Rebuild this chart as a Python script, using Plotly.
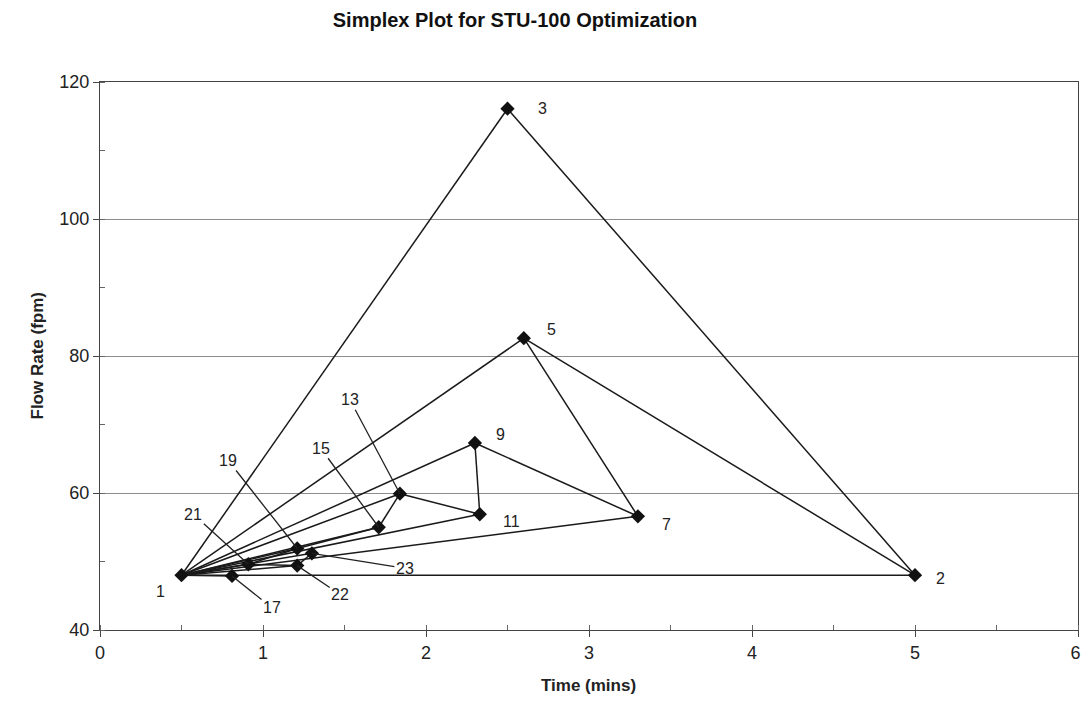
import plotly.graph_objects as go

# ---- data ----
point_labels = ["1", "2", "3", "5", "7", "9", "11", "13", "15", "17", "19", "21", "22", "23"]
time_mins = [0.5, 5.0, 2.5, 2.6, 3.3, 2.3, 2.33, 1.84, 1.71, 0.81, 1.21, 0.91, 1.21, 1.3]
flow_fpm = [48.0, 48.0, 116.1, 82.6, 56.6, 67.3, 56.9, 59.9, 55.0, 47.9, 51.9, 49.6, 49.4, 51.2]

edges = [("1", "3"), ("3", "2"), ("1", "2"), ("1", "5"), ("5", "2"), ("5", "7"),
         ("1", "7"), ("7", "9"), ("1", "9"), ("9", "11"), ("1", "11"), ("11", "13"),
         ("1", "13"), ("13", "15"), ("1", "15"), ("15", "19"), ("1", "19"),
         ("19", "21"), ("1", "21"), ("21", "22"), ("1", "22"), ("22", "23"),
         ("1", "23"), ("1", "17")]

x_ticks = [0, 1, 2, 3, 4, 5, 6]
x_tick_text = ["0", "1", "2", "3", "4", "5", "6\u00a0"]
y_ticks = [40, 60, 80, 100, 120]

# label placement (pixel offsets) - plain labels
plain_label_offsets = {"1": (-21, -16), "2": (25, -3), "3": (35, 0), "5": (28, 9),
                       "7": (29, -8), "9": (26, 9), "11": (32, -7)}
# labels with leader lines: (ax, ay) offsets
leader_label_offsets = {"13": (-50, -94), "15": (-58, -79), "19": (-69, -88),
                        "21": (-55, -50), "17": (40, 32), "22": (43, 29), "23": (93, 15)}

idx = {lab: i for i, lab in enumerate(point_labels)}

ex, ey = [], []
for a, b in edges:
    ex += [time_mins[idx[a]], time_mins[idx[b]], None]
    ey += [flow_fpm[idx[a]], flow_fpm[idx[b]], None]

font_family = "Liberation Sans, Arial, sans-serif"
# page body has an 8px margin; the figure is sized so the plot lands where the reference has it
OFF = 8
W, H = 1089 - 2 * OFF, 717 - 2 * OFF
L, T = 100 - OFF, 82 - OFF
R = W - (1078 - OFF)
B = H - (630 - OFF)
PW, PH = W - L - R, H - T - B

fig = go.Figure()
fig.add_trace(go.Scatter(x=ex, y=ey, mode="lines",
                         line=dict(color="#1a1a1a", width=1.5),
                         hoverinfo="skip", showlegend=False))
fig.add_trace(go.Scatter(x=time_mins, y=flow_fpm, mode="markers",
                         marker=dict(symbol="diamond", size=11, color="#111111"),
                         text=point_labels, showlegend=False))

annotations = []
for lab, (dx, dy) in plain_label_offsets.items():
    i = idx[lab]
    annotations.append(dict(x=time_mins[i], y=flow_fpm[i], text=lab, showarrow=False,
                            xshift=dx, yshift=dy,
                            font=dict(size=16, color="#222222", family=font_family)))
for lab, (ax, ay) in leader_label_offsets.items():
    i = idx[lab]
    annotations.append(dict(x=time_mins[i], y=flow_fpm[i], text=lab, showarrow=True,
                            arrowhead=0, arrowwidth=1.3, arrowcolor="#222222",
                            ax=ax, ay=ay, standoff=0,
                            font=dict(size=16, color="#222222", family=font_family)))


def px_to_paper_x(px):
    return (px - OFF - L) / PW


def px_to_paper_y(py):
    return (T + PH - (py - OFF)) / PH


# axis titles as paper annotations
annotations.append(dict(xref="paper", yref="paper", x=px_to_paper_x(588), y=px_to_paper_y(697),
                        text="<b>Time (mins)</b>", showarrow=False,
                        font=dict(size=17, color="#222222", family=font_family)))
annotations.append(dict(xref="paper", yref="paper", x=px_to_paper_x(25), y=px_to_paper_y(356),
                        text="<b>Flow Rate (fpm)</b>", showarrow=False, textangle=-90,
                        font=dict(size=17, color="#222222", family=font_family)))

fig.update_layout(
    width=W, height=H,
    margin=dict(l=L, r=R, t=T, b=B, autoexpand=False),
    paper_bgcolor="white", plot_bgcolor="white",
    font=dict(family=font_family, color="#222222"),
    title=dict(text="<b>Simplex Plot for STU-100 Optimization</b>",
               x=(515 - OFF) / W, xanchor="center", y=1 - (20 - OFF) / H, yanchor="middle",
               font=dict(size=20, color="#111111", family=font_family)),
    annotations=annotations,
)
fig.update_xaxes(range=[0, 6], tickvals=x_ticks, ticktext=x_tick_text,
                 showgrid=False, zeroline=False,
                 automargin=False, ticklabeloverflow="allow",
                 showline=True, linecolor="#444444", linewidth=1.2, mirror=True,
                 ticks="outside", ticklen=6, tickcolor="#444444",
                 minor=dict(dtick=0.5, ticks="inside", ticklen=5, tickcolor="#666666"),
                 tickfont=dict(size=18, color="#222222"))
fig.update_yaxes(range=[40, 120], tickvals=y_ticks, showgrid=True, gridcolor="#8c8c8c",
                 gridwidth=1, zeroline=False, automargin=False,
                 showline=True, linecolor="#444444", linewidth=1.2, mirror=True,
                 ticks="outside", ticklen=6, tickcolor="#444444",
                 minor=dict(dtick=10, ticks="inside", ticklen=5, tickcolor="#666666"),
                 tickfont=dict(size=18, color="#222222"))

fig.write_html("out.html")
